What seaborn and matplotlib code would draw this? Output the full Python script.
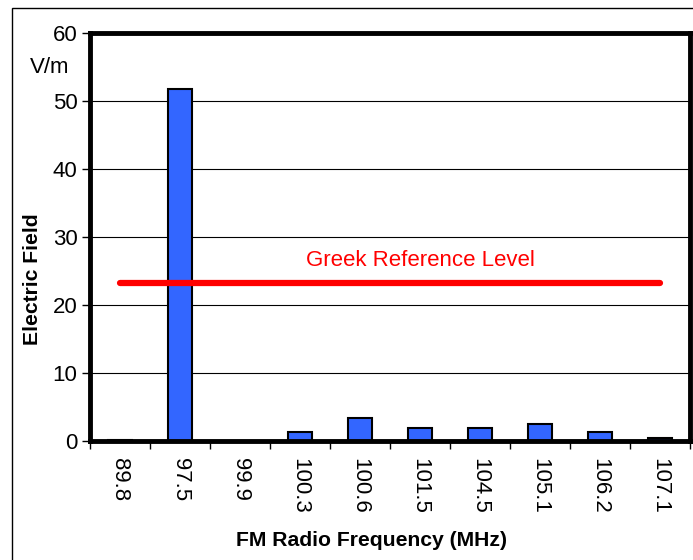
import matplotlib
matplotlib.use('Agg')
import matplotlib.pyplot as plt
import matplotlib.transforms as mtransforms
from matplotlib.patches import Rectangle
import seaborn as sns
import pandas as pd

# ---- data ----
frequencies = ["89.8", "97.5", "99.9", "100.3", "100.6", "101.5", "104.5", "105.1", "106.2", "107.1"]
field_values = [0.15, 51.8, 0.05, 1.3, 3.35, 1.9, 1.95, 2.45, 1.35, 0.4]
reference_level = 23.3
reference_label = "Greek Reference Level"
y_ticks = [0, 10, 20, 30, 40, 50, 60]
x_title = "FM Radio Frequency (MHz)"
y_title = "Electric Field"
unit_label = "V/m"

sns.set_theme(style='white')
plt.rcParams['font.family'] = ['Liberation Sans', 'DejaVu Sans']

fig = plt.figure(figsize=(6.93, 5.6), dpi=100)
W, H = 693, 560
ax = fig.add_axes([90 / W, 1 - 441 / H, 600 / W, 408 / H])

df = pd.DataFrame({"freq": frequencies, "field": field_values})
sns.barplot(data=df, x="freq", y="field", order=frequencies, color="#3366FF",
            saturation=1, edgecolor="black", linewidth=1.5, width=0.4, ax=ax)

n = len(frequencies)
ax.set_xlim(-0.5, n - 0.5)
ax.set_ylim(y_ticks[0], y_ticks[-1])
ax.set_yticks(y_ticks)
ax.yaxis.grid(True, color="black", lw=0.8)
ax.xaxis.grid(False)
ax.set_axisbelow(True)
ax.set_xlabel("")
ax.set_ylabel("")

ax.tick_params(axis='y', left=True, direction='out', length=6, width=1,
               color='black', labelsize=16, pad=3, labelcolor='black')
ax.set_xticks([i - 0.5 for i in range(n + 1)], labels=[''] * (n + 1))
ax.set_xticks(list(range(n)), labels=frequencies, minor=True)
ax.tick_params(axis='x', which='major', bottom=True, direction='out', length=6,
               width=1, color='black')
ax.tick_params(axis='x', which='minor', bottom=True, length=0, labelsize=16,
               labelrotation=270, pad=12, labelcolor='black')

for s in ax.spines.values():
    s.set_linewidth(3.5)
    s.set_color('black')

# reference level line
ax.plot([0, n - 1], [reference_level, reference_level], color="#FF0000", lw=4.5,
        solid_capstyle='round', zorder=5)
ax.text(5.0, 26.6, reference_label, color="#FF0000", fontsize=16,
        ha='center', va='center')

trans = mtransforms.blended_transform_factory(ax.transAxes, ax.transData)
ax.text(-0.035, 54.9, unit_label, transform=trans, ha='right', va='center',
        fontsize=16, color='black')

fig.text(32 / W, 1 - 279 / H, y_title, rotation=90, ha='center', va='center',
         fontsize=15.2, fontweight='bold', color='black')
fig.text(372 / W, 1 - 540 / H, x_title, ha='center', va='center',
         fontsize=15.2, fontweight='bold', color='black')

# outer chart border
fig.patches.append(Rectangle((12 / W, -0.05), 1.1, 1 - 8 / H + 0.05,
                             transform=fig.transFigure, fill=False,
                             edgecolor='black', lw=1))

fig.savefig('out.png', dpi=100)
